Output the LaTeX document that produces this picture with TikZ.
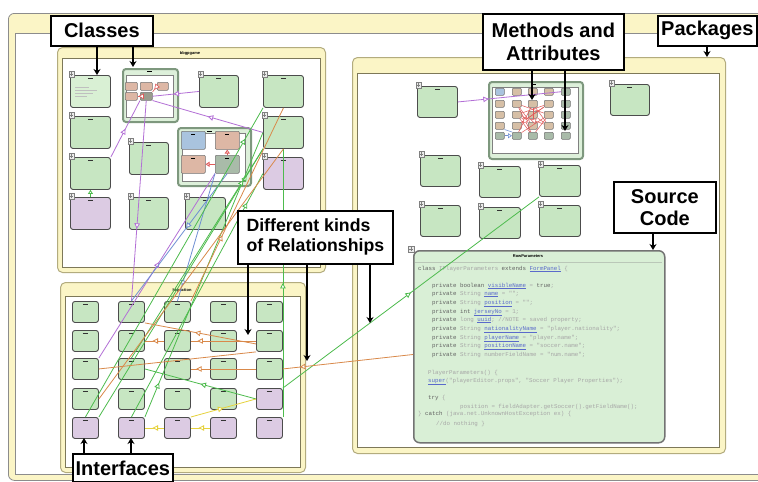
\documentclass[tikz,border=0pt]{standalone}
\usepackage{fontspec}
\setmainfont{Liberation Sans}
\newfontfamily\codefont{Liberation Mono}
\usetikzlibrary{arrows.meta,decorations.markings,calc}

\definecolor{pkgyel}{HTML}{FBF5C6}
\definecolor{pkgline}{HTML}{B3AC7E}
\definecolor{clsgreen}{HTML}{C7E6C2}
\definecolor{clslight}{HTML}{D9F0D4}
\definecolor{clslilac}{HTML}{DCCBE3}
\definecolor{clssalmon}{HTML}{DDB7A5}
\definecolor{clsblue}{HTML}{A9C3DE}
\definecolor{clsgray}{HTML}{A9BBA9}
\definecolor{clstan}{HTML}{D6BFA6}
\definecolor{relpurple}{HTML}{B36FD6}
\definecolor{relgreen}{HTML}{4DBB4D}
\definecolor{relorange}{HTML}{D9894A}
\definecolor{relblue}{HTML}{6F8FD3}
\definecolor{relyellow}{HTML}{E6D23C}
\definecolor{relred}{HTML}{E05A5A}
\definecolor{contline}{HTML}{7E987E}
\definecolor{srcfill}{HTML}{D9EFD6}
\definecolor{linkblue}{HTML}{5A6ACB}

\tikzset{
  cls/.style={draw=black!70, line width=0.9pt, rounded corners=2.5pt, fill=clsgreen, inner sep=0pt, anchor=north west},
  minibox/.style={draw=black!55, line width=0.5pt, rounded corners=1pt, inner sep=0pt, anchor=north west},
  contbox/.style={draw=contline, line width=2pt, rounded corners=3pt, fill=clsgreen!60, inner sep=0pt, anchor=north west},
  plusicon/.style={draw=black!50, fill=black!8, line width=0.4pt, minimum size=5.5pt, inner sep=0pt,
    path picture={\draw[line width=0.6pt] ([xshift=-1.6pt]path picture bounding box.center) -- ([xshift=1.6pt]path picture bounding box.center)
      ([yshift=-1.6pt]path picture bounding box.center) -- ([yshift=1.6pt]path picture bounding box.center);}},
  pkgouter/.style={draw=pkgline, fill=pkgyel, line width=1pt, rounded corners=5pt, inner sep=0pt, anchor=north west},
  pkginner/.style={draw=pkgline!70!black, fill=white, line width=0.7pt},
  pkgtitle/.style={font=\bfseries\fontsize{4}{4}\selectfont, inner sep=0pt},
  rel/.style={line width=0.8pt},
  tri/.style={postaction={decorate}, decoration={markings, mark=at position #1 with {\arrow{Triangle[length=5.5pt,width=5.5pt,fill=white]}}}},
  trihead/.style={-{Triangle[length=4pt,width=5pt,fill=white]}},
  labelbox/.style={draw=black, line width=1.7pt, fill=white, font=\bfseries\fontsize{20}{22}\selectfont, inner sep=0pt, align=center, anchor=north west},
  calloutarrow/.style={line width=1.8pt, -{Stealth[length=6pt,width=7pt]}},
  codeline/.style={anchor=base west, inner sep=0pt, font=\codefont\fontsize{5.8}{6}\selectfont, text=black!35},
}

\newcommand{\ucls}[6][clsgreen]{%
  \node[cls, fill=#1, minimum width=#5pt, minimum height=#6pt] (#2) at (#3,#4) {};
  \draw[line width=1.2pt, black!80] ([xshift=-2.5pt,yshift=-3.5pt]#2.north) -- ([xshift=2.5pt,yshift=-3.5pt]#2.north);
}
\newcommand{\uclsp}[6][clsgreen]{%
  \ucls[#1]{#2}{#3}{#4}{#5}{#6}%
  \node[plusicon] at ([xshift=1.5pt,yshift=1pt]#2.north west) {};
}
\newcommand{\umini}[6][clssalmon]{%
  \node[minibox, fill=#1, minimum width=#5pt, minimum height=#6pt] (#2) at (#3,#4) {};
}
\newcommand{\kw}[1]{{\color{black!62}#1}}
\newcommand{\lnk}[1]{{\color{linkblue}\underline{#1}}}

\begin{document}
\begin{tikzpicture}[x=1pt,y=-1pt]
\useasboundingbox (0,0) rectangle (758,482);
\fill[white] (0,0) rectangle (758,482);
% outer frame
\begin{scope}
  \clip (0,0) rectangle (758,482);
  \node[pkgouter, draw=black!45, line width=0.8pt, rounded corners=6pt, minimum width=790pt, minimum height=467pt] (frame) at (8,13) {};
  \draw[draw=black!45, fill=white, line width=0.6pt] (15,33) rectangle (800,474);
\end{scope}

% packages
\node[pkgouter, minimum width=268pt, minimum height=225pt] (pkgA) at (57,47) {};
\draw[pkginner] (62,58) rectangle (320,267);
\node[pkgtitle] (pkgAt) at (190,53) {bbgpgame};
\node[pkgouter, minimum width=245pt, minimum height=190pt] (pkgB) at (60,282) {};
\draw[pkginner] (65,296) rectangle (300,467);
\node[pkgtitle] (pkgBt) at (182,290) {hkpaction};
\node[pkgouter, minimum width=373pt, minimum height=396pt] (pkgC) at (352,57) {};
\draw[pkginner] (357,73) rectangle (719,447);

% ---------- top-left package ----------
\uclsp[clslight]{t1}{70}{75}{40}{32}
\foreach \yy/\ww in {87/14, 90/22, 93/18, 96/12} \draw[black!25, line width=0.6pt] (75,\yy) -- ++(\ww,0);
\uclsp{t2}{199}{75}{39}{32}
\uclsp{t3}{263}{75}{40}{32}
\uclsp{t4}{70}{116}{40}{32}
\uclsp{t5}{263}{116}{40}{32}
\uclsp{t6}{129}{142}{39}{32}
\uclsp{t7}{70}{157}{40}{32}
\uclsp[clslilac]{t8}{263}{157}{40}{32}
\uclsp[clslilac]{t9}{70}{197}{40}{32}
\uclsp{t10}{129}{197}{39}{32}
\uclsp{t11}{185}{197}{40}{32}

% container 1
\node[contbox, minimum width=55pt, minimum height=53pt] (c1) at (122,68) {};
\draw[black!50, fill=white, line width=0.6pt] (126,75) rectangle (173,117);
\draw[line width=1pt] (147,71) -- (152,71);
\umini{c1a}{125}{82}{12}{8}
\umini{c1b}{140}{82}{12}{8}
\umini{c1c}{157}{82}{11}{8}
\umini{c1d}{125}{92}{12}{8}
\umini[clssalmon!60!black!40!clsgray]{c1e}{140}{92}{12}{8}

% container 2
\node[contbox, minimum width=73pt, minimum height=58pt] (c2) at (177,127) {};
\draw[black!50, fill=white, line width=0.6pt] (182,133) rectangle (245,181);
\draw[line width=1pt] (207,131) -- (212,131);
\umini[clsblue]{c2a}{181}{131}{24}{18}
\umini{c2b}{215}{131}{24}{18}
\umini{c2c}{181}{155}{24}{18}
\umini[clsgray]{c2d}{215}{155}{24}{18}
\foreach \n in {c2a,c2b,c2c,c2d} \draw[line width=0.8pt] ([xshift=-2pt,yshift=-3pt]\n.north) -- ([xshift=2pt,yshift=-3pt]\n.north);

% ---------- bottom-left package ----------
\foreach \r/\yy in {1/301,2/330,3/358,4/388,5/417}{
  \foreach \c/\xx in {1/72,2/118,3/164,4/210,5/256}{
    \ifnum\r=5 \def\bfill{clslilac}\else\def\bfill{clsgreen}\fi
    \ifnum\r=4 \ifnum\c=5 \def\bfill{clslilac}\fi\fi
    \ucls[\bfill]{b\r\c}{\xx}{\yy}{26}{21}
  }
}

% ---------- right package ----------
\uclsp{r1}{417}{86}{40}{31}
\uclsp{r2}{610}{84}{39}{31}
\uclsp{r3}{420}{155}{40}{31}
\uclsp{r4}{479}{166}{41}{31}
\uclsp{r5}{539}{165}{41}{31}
\uclsp{r6}{420}{205}{40}{31}
\uclsp{r7}{479}{207}{41}{31}
\uclsp{r8}{539}{205}{41}{31}

% container 3 (methods and attributes)
\node[contbox, minimum width=94pt, minimum height=77pt] (c3) at (488,81) {};
\draw[black!50, fill=white, line width=0.6pt] (492,87) rectangle (578,153);
\draw[line width=0.8pt] (531,84) -- (536,84);
\foreach \r/\yy in {1/88,2/100,3/111,4/122,5/132}{
  \foreach \c/\xx in {1/495,2/512,3/528,4/544,5/561}{
    \ifnum\c=5 \def\mfill{clsgray}\else\ifnum\r=5 \def\mfill{clsgray}\else\def\mfill{clstan}\fi\fi
    \ifnum\c=1 \ifnum\r=1 \def\mfill{clsblue}\fi\fi
    \umini[\mfill]{m\r\c}{\xx}{\yy}{9}{7}
  }
}

% source code class
\node[cls, draw=black!55, line width=1.5pt, rounded corners=6pt, fill=srcfill, minimum width=251pt, minimum height=192pt] (src) at (413,250) {};
\draw[clsgreen!70!black!60, line width=0.4pt] (415,262) -- (662,262);
\node[pkgtitle] (srct) at (528,256) {RowParameters};
\node[plusicon] at ([xshift=-2pt,yshift=1pt]src.north west) {};
\node[codeline] (cl1) at (418,270) {\kw{class} IPlayerParameters \kw{extends} \lnk{FormPanel} \{};
\node[codeline] (cl2) at (432,287) {\kw{private} \kw{boolean} \lnk{visibleName} = \kw{true};};
\node[codeline] (cl3) at (432,295) {\kw{private} String \lnk{name} = "";};
\node[codeline] (cl4) at (432,304) {\kw{private} String \lnk{position} = "";};
\node[codeline] (cl5) at (432,313) {\kw{private} \kw{int} \lnk{jerseyNo} = 1;};
\node[codeline] (cl6) at (432,321) {\kw{private} long \lnk{uuid}; //NOTE = saved property;};
\node[codeline] (cl7) at (432,330) {\kw{private} String \lnk{nationalityName} = "player.nationality";};
\node[codeline] (cl8) at (432,339) {\kw{private} String \lnk{playerName} = "player.name";};
\node[codeline] (cl9) at (432,347) {\kw{private} String \lnk{positionName} = "soccer.name";};
\node[codeline] (cl10) at (432,356) {\kw{private} String numberFieldName = "num.name";};
\node[codeline] (cl11) at (428,374) {PlayerParameters() \{};
\node[codeline] (cl12) at (428,382) {\lnk{super}("playerEditor.props", "Soccer Player Properties");};
\node[codeline] (cl13) at (428,399) {\kw{try} \{};
\node[codeline] (cl14) at (460,408) {position = fieldAdapter.getSoccer().getFieldName();};
\node[codeline] (cl15) at (418,415) {\} \kw{catch} (java.net.UnknownHostException ex) \{};
\node[codeline] (cl16) at (436,425) {//do nothing \}};

% ---------- relationships ----------
% red, inside containers
\draw[rel,relred,line width=0.6pt,tri=0.6] (c1c.west) -- (c1e.north east);
\draw[rel,relred,line width=0.6pt,tri=0.7] (c1e.west) -- (c1d.east);
\draw[rel,relred,trihead] (c2d.north) -- (c2b.south);
\draw[rel,relred,trihead] (c2d.west) -- (c2c.east);
\foreach \a/\b in {m22/m43, m32/m24, m42/m33, m23/m52, m33/m44, m43/m32, m24/m42, m34/m53, m44/m23, m52/m34, m32/m53, m42/m24, m22/m34, m43/m23}
  \draw[relred, line width=0.5pt] (\a) -- (\b);
\draw[relred, line width=0.5pt, tri=0.6] (m44) -- (m32);
\draw[relred, line width=0.5pt, tri=0.6] (m53) -- (m22);
\draw[relblue, line width=0.6pt, trihead] (m51.east) -- (m52.west);
\draw[relblue, line width=0.6pt] (m41.south east) -- (m52.north west);
\draw[rel,relpurple,tri=0.3] (r1.east) -- (m15.west);

% purple
\draw[rel,relpurple,tri=0.55] (t2.west) -- (c1e.east);
\draw[rel,relpurple,tri=0.5] (t5.west) -- (c1e.south east);
\draw[rel,relpurple,tri=0.5] (t7.north east) -- (c1e.south west);
\draw[rel,relpurple,tri=0.64] (c1e.south) -- (b12.north);
\draw[rel,relpurple,tri=0.52] (b31.north east) -- (c2d.south west);

% blue
\draw[rel,relblue,tri=0.88] (c2d.south west) -- (b13.north);
\draw[rel,relblue,tri=0.43] (c2d.south) -- (b12.north);

% green
\draw[rel,relgreen,tri=0.5] (b55.north east) -- (b55.north east |- t5.south);
\draw[rel,relgreen,tri=0.9] (b51.north east) -- (t5.south west);
\draw[rel,relgreen,tri=0.9] (b51.north) -- (t3.south west);
\draw[rel,relgreen,tri=0.88] (b52.north) -- (t8.west);
\draw[rel,relgreen,tri=0.12] (b52.north east) -- (t5.west);
\draw[rel,relgreen,tri=0.85] (b32.north) -- (t5.south west);
\draw[rel,relgreen,trihead] (t9.north) -- (t7.south);
\draw[rel,relgreen,tri=0.5] (b45.west) -- (b32.east);
\draw[rel,relgreen,tri=0.5] (b45.north east) -- (r5.south west);

% orange
\coordinate (srcO) at ($(src.north west)!0.54!(src.south west)$);
\draw[rel,relorange,tri=0.87] (srcO) -- (b35.east);
\draw[rel,relorange,tri=0.9] (b25.west) -- (b23.east);
\draw[rel,relorange,tri=0.6] (b23.west) -- (b22.east);
\draw[rel,relorange,tri=0.55] ([yshift=-3pt]b25.west) -- (b12.south east);
\draw[rel,relorange] (b31.east) -- (b25.south west);
\draw[rel,relorange,tri=0.92] (b35.west) -- (b33.east);
\draw[rel,relorange,tri=0.34] (b13.north east) -- (t3.south);
\draw[rel,relorange] (b41.east) -- (t5.south);

% yellow
\draw[rel,relyellow,tri=0.6] (b54.west) -- (b53.east);
\draw[rel,relyellow,tri=0.6] (b53.west) -- (b52.east);
\draw[rel,relyellow,tri=0.5] (b53.north east) -- (b45.west);

% ---------- callout labels ----------
\node[labelbox, minimum width=102pt, minimum height=30pt] (labC) at (50,15) {Classes};
\coordinate (cC1) at (97,75);
\coordinate (cC2) at (133,67);
\draw[calloutarrow] (labC.south -| cC1) -- (cC1);
\draw[calloutarrow] (labC.south -| cC2) -- (cC2);

\node[labelbox, minimum width=141pt, minimum height=56pt] (labM) at (482,13) {Methods and\\Attributes};
\coordinate (cM1) at (532,100);
\coordinate (cM2) at (565,131);
\draw[calloutarrow] (labM.south -| cM1) -- (cM1);
\draw[calloutarrow] (labM.south -| cM2) -- (cM2);

\node[labelbox, minimum width=99pt, minimum height=30pt] (labP) at (657,15) {Packages};
\coordinate (cP1) at (707,57);
\draw[calloutarrow] (labP.south -| cP1) -- (cP1);

\node[labelbox, minimum width=102pt, minimum height=51pt] (labS) at (613,181) {Source\\Code};
\coordinate (cS1) at (653,250);
\draw[calloutarrow] (labS.south -| cS1) -- (cS1);

\node[labelbox, minimum width=155pt, minimum height=53pt, align=left, font=\bfseries\fontsize{17.7}{20}\selectfont] (labR) at (237,210) {Different kinds\\of Relationships};
\coordinate (cR1) at (248,335);
\coordinate (cR2) at (307,361);
\coordinate (cR3) at (370,323);
\draw[calloutarrow] (labR.south -| cR1) -- (cR1);
\draw[calloutarrow] (labR.south -| cR2) -- (cR2);
\draw[calloutarrow] (labR.south -| cR3) -- (cR3);

\node[labelbox, minimum width=100pt, minimum height=28pt] (labI) at (72,453) {Interfaces};
\coordinate (cI1) at (84,438);
\coordinate (cI2) at (131,438);
\draw[calloutarrow] (labI.north -| cI1) -- (cI1);
\draw[calloutarrow] (labI.north -| cI2) -- (cI2);
\end{tikzpicture}
\end{document}
